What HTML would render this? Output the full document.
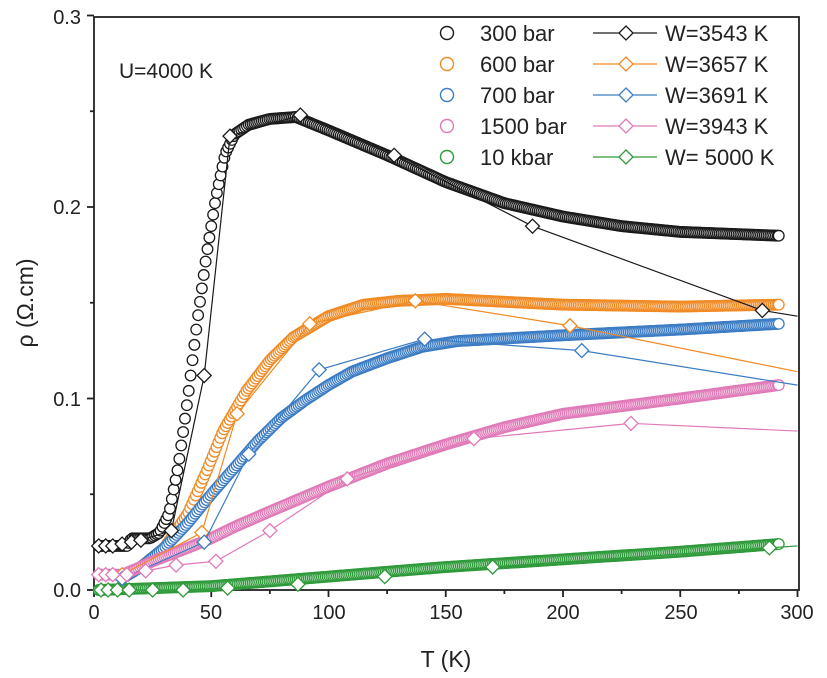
<!DOCTYPE html>
<html><head><meta charset="utf-8"><style>
html,body{margin:0;padding:0;background:#fff;}
svg{display:block;font-family:"Liberation Sans",sans-serif;}
</style></head><body>
<svg id="s" width="827" height="678" viewBox="0 0 827 678" xmlns="http://www.w3.org/2000/svg">
<rect x="94" y="17" width="705" height="573" fill="none" stroke="#222" stroke-width="1.8"/>
<g id="ticks" stroke="#222" stroke-width="1.8"></g>
<g font-size="20" fill="#222" text-anchor="middle">
<text x="94" y="619">0</text><text x="211" y="619">50</text><text x="329" y="619">100</text>
<text x="446" y="619">150</text><text x="563" y="619">200</text><text x="681" y="619">250</text><text x="797" y="619">300</text>
</g>
<g font-size="20" fill="#222" text-anchor="end">
<text x="81" y="597">0.0</text><text x="81" y="406">0.1</text><text x="81" y="214">0.2</text><text x="81" y="24">0.3</text>
</g>
<text x="446" y="667" font-size="23" fill="#222" text-anchor="middle">T (K)</text>
<text transform="translate(33,303) rotate(-90)" font-size="23" fill="#222" text-anchor="middle">ρ (Ω.cm)</text>
<text x="119" y="78" font-size="21" fill="#222">U=4000 K</text>
<g id="data"></g>
<g id="leg" font-size="22" fill="#222"></g>
</svg>
<script>
var NS="http://www.w3.org/2000/svg";
function X(t){return 94+t*2.345;}
function Y(r){return 590-r*1915;}
function el(n,a,p){var e=document.createElementNS(NS,n);for(var k in a)e.setAttribute(k,a[k]);p.appendChild(e);return e;}
var tk=document.getElementById('ticks');
for(var t=0;t<=300;t+=25){var L=(t%50==0)?7:4;el('line',{x1:X(t),x2:X(t),y1:590,y2:590+L},tk);}
for(var r=0;r<=0.3001;r+=0.05){var L=(Math.round(r*100)%10==0)?7:4;el('line',{x1:94,x2:94-L,y1:Y(r),y2:Y(r)},tk);}
function interp(pts,t){for(var i=0;i<pts.length-1;i++){if(t<=pts[i+1][0]){var a=pts[i],b=pts[i+1];var f=(t-a[0])/(b[0]-a[0]);return a[1]+(b[1]-a[1])*f;}}return pts[pts.length-1][1];}
var series=[
{c:'#1a1a1a',start:2,circ:[[2,0.023],[14,0.023],[16,0.027],[24,0.027],[28,0.03],[32,0.04],[36,0.065],[40,0.1],[44,0.14],[48,0.175],[52,0.205],[56,0.228],[60,0.238],[66,0.243],[75,0.246],[86,0.247],[100,0.24],[125,0.227],[150,0.213],[175,0.202],[200,0.195],[225,0.19],[250,0.187],[292,0.185]],
 dia:[[2,0.023],[5,0.023],[8,0.023],[12,0.024],[16,0.025],[20,0.026],[33,0.031],[47,0.112],[58,0.237],[88,0.248],[128,0.227],[187,0.19],[285,0.146],[300,0.143]]},
{c:'#f08a24',start:13,circ:[[13,0.008],[20,0.012],[30,0.022],[40,0.04],[48,0.062],[55,0.083],[65,0.104],[75,0.12],[85,0.132],[100,0.143],[115,0.149],[130,0.151],[150,0.152],[200,0.149],[250,0.148],[292,0.149]],
 dia:[[12,0.008],[46,0.03],[61,0.092],[92,0.139],[137,0.151],[203,0.138],[300,0.114]]},
{c:'#3b7cc4',start:12,circ:[[12,0.006],[20,0.012],[30,0.022],[40,0.035],[50,0.05],[60,0.064],[70,0.078],[80,0.09],[90,0.099],[100,0.107],[110,0.114],[125,0.121],[140,0.127],[155,0.13],[200,0.133],[250,0.136],[292,0.139]],
 dia:[[12,0.006],[47,0.025],[66,0.071],[96,0.115],[141,0.131],[208,0.125],[300,0.107]]},
{c:'#e07ab8',start:2,circ:[[2,0.008],[12,0.008],[18,0.011],[25,0.015],[40,0.022],[50,0.027],[60,0.033],[75,0.041],[100,0.054],[125,0.066],[150,0.076],[175,0.085],[200,0.092],[250,0.1],[292,0.107]],
 dia:[[2,0.008],[5,0.008],[8,0.008],[14,0.008],[22,0.01],[35,0.013],[52,0.015],[75,0.031],[108,0.058],[162,0.079],[229,0.087],[300,0.083]]},
{c:'#2e9a3a',start:2,circ:[[2,0],[50,0.002],[100,0.007],[150,0.012],[200,0.016],[250,0.02],[292,0.024]],
 dia:[[3,0],[6,0],[10,0],[15,0],[25,0],[38,0],[57,0.001],[87,0.003],[124,0.007],[170,0.012],[288,0.022],[300,0.023]]}
];
var g=document.getElementById('data');
function diamond(x,y,c,p){el('polygon',{points:(x)+','+(y-7)+' '+(x+7)+','+y+' '+x+','+(y+7)+' '+(x-7)+','+y,fill:'#fff',stroke:c,'stroke-width':1.3},p);}
series.forEach(function(s){
  for(var t=s.start;t<=292;t+=0.8){var x=X(t),y=Y(interp(s.circ,t));el('circle',{cx:x,cy:y,r:5.3,fill:'#fff',stroke:s.c,'stroke-width':1.3},g);}
  var last=s.circ[s.circ.length-1];el('circle',{cx:X(last[0]),cy:Y(last[1]),r:5.3,fill:'#fff',stroke:s.c,'stroke-width':1.3},g);
});
series.forEach(function(s){
  var pts=s.dia.map(function(p){return X(p[0])+','+Y(p[1]);}).join(' ');
  el('polyline',{points:pts,fill:'none',stroke:s.c,'stroke-width':1.2},g);
  s.dia.forEach(function(p){if(p[0]<300)diamond(X(p[0]),Y(p[1]),s.c,g);});
});
var lg=document.getElementById('leg');
var n1=['300 bar','600 bar','700 bar','1500 bar','10 kbar'],n2=['W=3543 K','W=3657 K','W=3691 K','W=3943 K','W= 5000 K'];
for(var i=0;i<5;i++){var y=33+i*31;var c=series[i].c;
 el('circle',{cx:447,cy:y,r:6.5,fill:'#fff',stroke:c,'stroke-width':1.4},lg);
 var t1=el('text',{x:480,y:y+8},lg);t1.textContent=n1[i];
 el('line',{x1:593,x2:657,y1:y,y2:y,stroke:c,'stroke-width':1.2},lg);
 diamond(626,y,c,lg);
 var t2=el('text',{x:665,y:y+8},lg);t2.textContent=n2[i];}
</script>
</body></html>
